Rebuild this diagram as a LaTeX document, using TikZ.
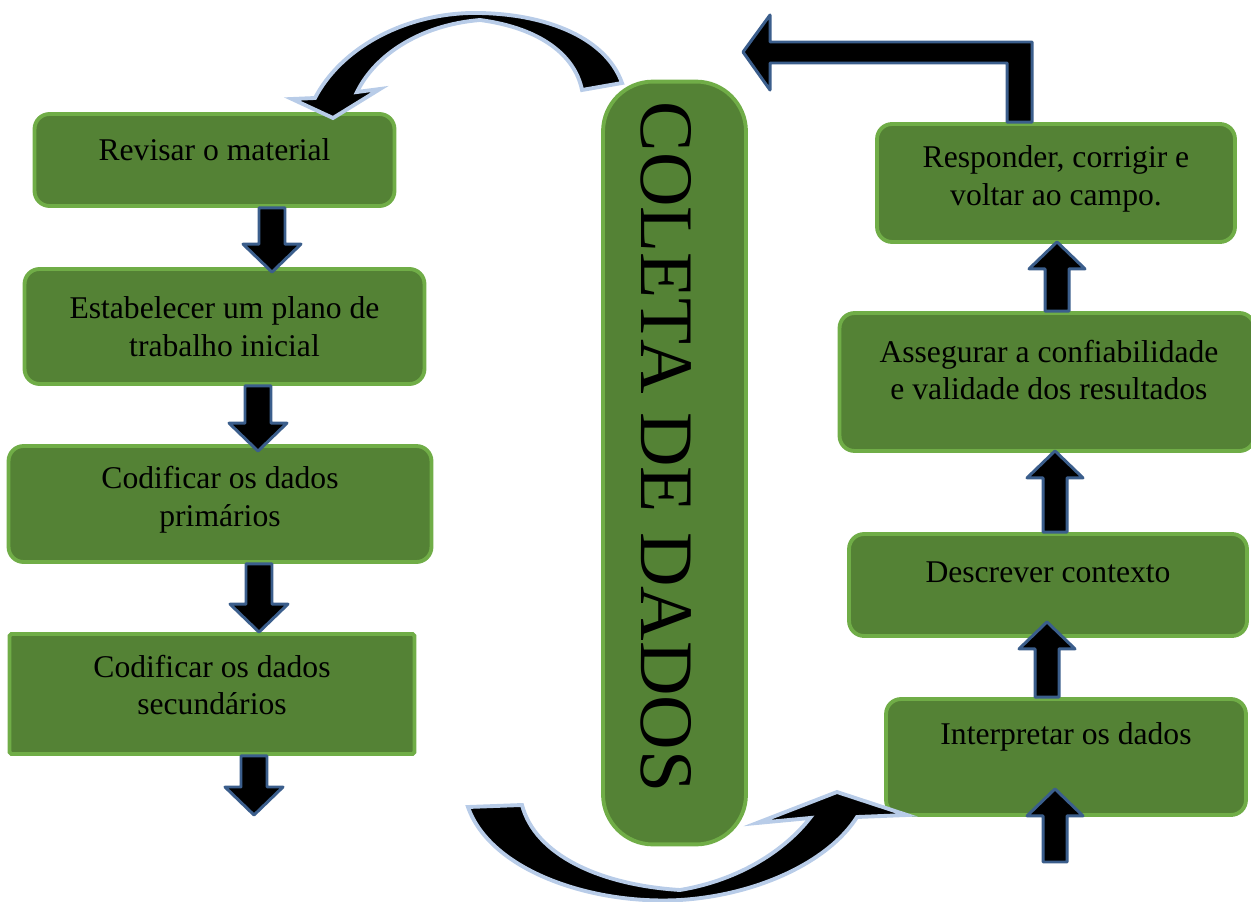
\documentclass[tikz,border=0pt]{standalone}
\usepackage{fontspec}
\setmainfont{Liberation Serif}
\usetikzlibrary{positioning,calc}

\definecolor{boxfill}{HTML}{548235}
\definecolor{boxline}{HTML}{70AD47}
\definecolor{arrline}{HTML}{3B5E8C}
\definecolor{curveline}{HTML}{B8CCE8}

\tikzset{
  stage/.style={draw=boxline, fill=boxfill, line width=2.2pt, rounded corners=0.3cm, inner sep=0pt},
  lbl/.style={align=center, font=\fontsize{18}{21.5}\selectfont},
  blkarr/.style={fill=black, draw=arrline, line width=1.7pt, line join=round},
  curvearr/.style={fill=black, draw=curveline, line width=2.2pt, line join=miter},
}

% block arrow pointing down: x, start, tip, overlap of tip
\newcommand{\downblk}[4]{%
  \coordinate (s) at (#1,0 |- #2);
  \coordinate (t) at ($(#1,0 |- #3)+(0,#4)$);
  \draw[blkarr] ($(s)+(-13,0)$) -- ($(t)+(-13,-28)$) -- ($(t)+(-29,-28)$) -- (t)
    -- ($(t)+(29,-28)$) -- ($(t)+(13,-28)$) -- ($(s)+(13,0)$) -- cycle;
}
% block arrow pointing up: x, start, tip, overlap of tip
\newcommand{\upblk}[4]{%
  \coordinate (s) at (#1,0 |- #2);
  \coordinate (t) at ($(#1,0 |- #3)+(0,-#4)$);
  \draw[blkarr] ($(s)+(-12,0)$) -- ($(t)+(-12,27)$) -- ($(t)+(-28,27)$) -- (t)
    -- ($(t)+(28,27)$) -- ($(t)+(12,27)$) -- ($(s)+(12,0)$) -- cycle;
}

\begin{document}
\begin{tikzpicture}[x=0.02cm, y=-0.02cm]
  \useasboundingbox (0,0) rectangle (1251,902);

  % left column
  \node[stage, minimum width=7.2cm, minimum height=1.84cm] (rev) at (214.5,160) {};
  \node[stage, minimum width=8.0cm, minimum height=2.3cm] (plano) at (224.5,326.5) {};
  \node[stage, minimum width=8.46cm, minimum height=2.32cm] (prim) at (220,504) {};
  \node[stage, rounded corners=1pt, minimum width=8.1cm, minimum height=2.4cm] (sec) at (212,694) {};

  \node[lbl] (revtxt) at ($(rev)+(0,-10)$) {Revisar o material};
  \node[lbl] (planotxt) at (plano) {Estabelecer um plano de\\trabalho inicial};
  \node[lbl] (primtxt) at ($(prim)+(0,-4)$) {Codificar os dados\\primários};
  \node[lbl] (sectxt) at ($(sec)+(0,-9)$) {Codificar os dados\\secundários};

  % middle
  \node[stage, rounded corners=1cm, minimum width=2.86cm, minimum height=15.26cm] (coleta) at (674.5,463) {};
  \node[rotate=-90, font=\fontsize{43}{43}\selectfont] (coletatxt) at ($(coleta)+(-8,-16)$) {COLETA DE DADOS};

  % right column
  \node[stage, minimum width=7.16cm, minimum height=2.36cm] (resp) at (1056,183) {};
  \node[stage, minimum width=8.3cm, minimum height=2.76cm] (aseg) at (1047,382) {};
  \node[stage, minimum width=7.96cm, minimum height=2.04cm] (desc) at (1048,585) {};
  \node[stage, minimum width=7.2cm, minimum height=2.32cm] (interp) at (1066,757) {};

  \node[lbl] (resptxt) at ($(resp)+(0,-4)$) {Responder, corrigir e\\voltar ao campo.};
  \node[lbl] (asegtxt) at ($(aseg)+(2,-12)$) {Assegurar a confiabilidade\\e validade dos resultados};
  \node[lbl] (desctxt) at ($(desc)+(0,-13)$) {Descrever contexto};
  \node[lbl] (interptxt) at ($(interp)+(0,-20)$) {Interpretar os dados};

  % arrows down the left
  \downblk{272}{rev.south}{plano.north}{5}
  \downblk{258}{plano.south}{prim.north}{7}
  \downblk{259}{prim.south}{sec.north}{0}
  \coordinate (leftend) at (254,815);
  \downblk{254}{sec.south}{leftend}{0}

  % arrows up the right
  \coordinate (rightstart) at (1055,862);
  \upblk{1055}{rightstart}{interp.south}{28}
  \upblk{1047}{interp.north}{desc.south}{16}
  \upblk{1055}{desc.north}{aseg.south}{2}
  \upblk{1057}{aseg.north}{resp.south}{2}

  % bent arrow back to the top
  \draw[blkarr] (1007,0 |- resp.north) -- (1007,63) -- (770,63) -- (770,90) -- (743,52)
    -- (770,15) -- (770,42) -- (1032,42) -- (1032,0 |- resp.north) -- cycle;

  % curved arrow top
  \draw[curvearr] (622,83) .. controls (605,35) and (540,12) .. (470,13)
    .. controls (400,15) and (340,50) .. (315,98) -- (292,99) -- (333,118) -- (380,89) -- (357,92)
    .. controls (375,55) and (420,25) .. (480,20) .. controls (540,28) and (575,55) .. (582,90) -- cycle;

  % curved arrow bottom
  \draw[curvearr] (468,807) .. controls (490,870) and (590,905) .. (680,900)
    .. controls (760,895) and (830,860) .. (857,817) -- (907,815) -- (837,792) -- (757,823) -- (810,818)
    .. controls (785,850) and (740,880) .. (680,890) .. controls (600,885) and (535,855) .. (522,805) -- cycle;
\end{tikzpicture}
\end{document}
